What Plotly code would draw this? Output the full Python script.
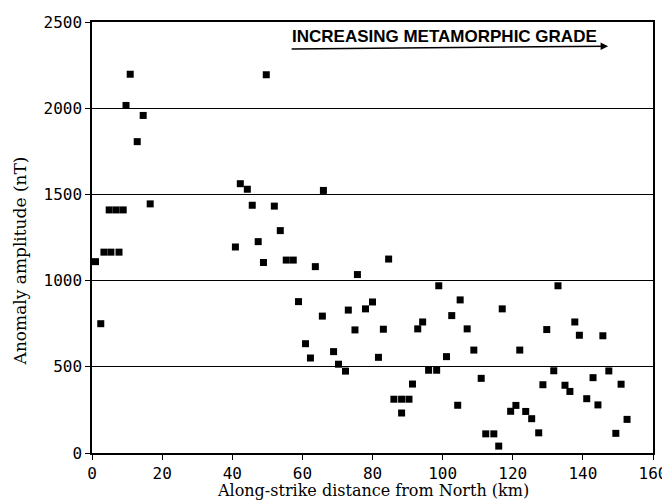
import plotly.graph_objects as go

# Along-strike distance (km) and anomaly amplitude (nT)
distance_km = [
    1, 2.5, 3.4, 5.4, 7.7, 4.9, 6.9, 8.9, 16.6, 9.7, 10.9, 14.6, 12.9,
    49.7, 42.3, 44.3, 45.7, 52, 53.7, 47.4, 40.9, 66, 48.9, 55.4, 57.4,
    63.7, 58.9, 65.7, 60.9, 62.3, 68.9, 70.3, 72.3, 73.1, 75, 75.7,
    84.6, 98.9, 105, 78, 80, 83.1, 92.9, 94.3, 102.6, 81.7, 101.1,
    96, 98.3, 91.4, 86.1, 88.3, 90.4, 88.3, 104.3,
    132.9, 117, 137.7, 107, 129.7, 139, 145.7, 108.9, 122, 111,
    131.7, 128.6, 134.9, 136.3, 142.9, 147.4, 150.9, 141.1, 144.3,
    152.6, 149.4, 119.4, 120.9, 123.7, 125.4, 127.4, 112.3, 114.6, 116,
]
amplitude_nT = [
    1110, 750, 1165, 1165, 1165, 1410, 1410, 1410, 1445, 2016, 2197, 1958, 1806,
    2194, 1562, 1530, 1437, 1432, 1290, 1226, 1195, 1523, 1105, 1119, 1119,
    1081, 878, 794, 634, 551, 588, 515, 475, 829, 714, 1035,
    1125, 970, 888, 836, 876, 718, 720, 760, 797, 555, 559,
    480, 480, 400, 312, 312, 312, 232, 277,
    970, 836, 760, 720, 716, 683, 680, 597, 597, 433,
    477, 396, 393, 357, 437, 476, 399, 315, 279,
    195, 114, 242, 276, 241, 199, 117, 111, 111, 40,
]

x_ticks = [0, 20, 40, 60, 80, 100, 120, 140, 160]
y_ticks = [0, 500, 1000, 1500, 2000, 2500]

x_title = "Along-strike distance from North (km)"
y_title = "Anomaly amplitude (nT)"
grade_label = "INCREASING METAMORPHIC GRADE"

fig = go.Figure(
    go.Scatter(
        x=distance_km,
        y=amplitude_nT,
        mode="markers",
        marker=dict(symbol="square", size=7, color="black", line=dict(width=0)),
        showlegend=False,
    )
)

tick_font = dict(family="DejaVu Sans Mono", size=16, color="black")

axis_common = dict(
    ticks="outside",
    ticklen=5,
    tickcolor="black",
    showline=True,
    linecolor="black",
    linewidth=1.5,
    mirror=True,
    zeroline=False,
    tickfont=tick_font,
    ticklabeloverflow="allow",
)

fig.update_xaxes(range=[0, 160], tickvals=x_ticks, showgrid=False, **axis_common)
fig.update_yaxes(
    range=[0, 2500], tickvals=y_ticks,
    showgrid=True, gridcolor="black", gridwidth=1,
    **axis_common,
)

# axis titles
fig.add_annotation(
    text=x_title, xref="paper", yref="paper",
    x=0.5, y=-0.087, xanchor="center", yanchor="middle",
    showarrow=False,
    font=dict(family="DejaVu Serif", size=16, color="black"),
)
fig.add_annotation(
    text=y_title, xref="paper", yref="paper",
    x=-0.128, y=0.445, xanchor="center", yanchor="middle",
    textangle=-90, showarrow=False,
    font=dict(family="DejaVu Serif", size=17, color="black"),
)

fig.add_annotation(
    text=grade_label,
    xref="paper", yref="paper",
    x=0.628, y=0.967,
    xanchor="center", yanchor="middle",
    showarrow=False,
    font=dict(family="Liberation Sans", size=17, color="black", weight="bold"),
)
fig.add_annotation(
    text="",
    xref="paper", yref="paper",
    x=0.92, y=0.944,
    ax=-318, ay=3,
    showarrow=True,
    arrowhead=2,
    arrowsize=1,
    arrowwidth=1.5,
    arrowcolor="black",
)

# page body has an 8px margin, so offset the figure accordingly
fig.update_layout(
    width=662,
    height=492,
    margin=dict(l=84, r=17, t=14, b=47, autoexpand=False),
    paper_bgcolor="white",
    plot_bgcolor="white",
)

fig.write_html("out.html")
